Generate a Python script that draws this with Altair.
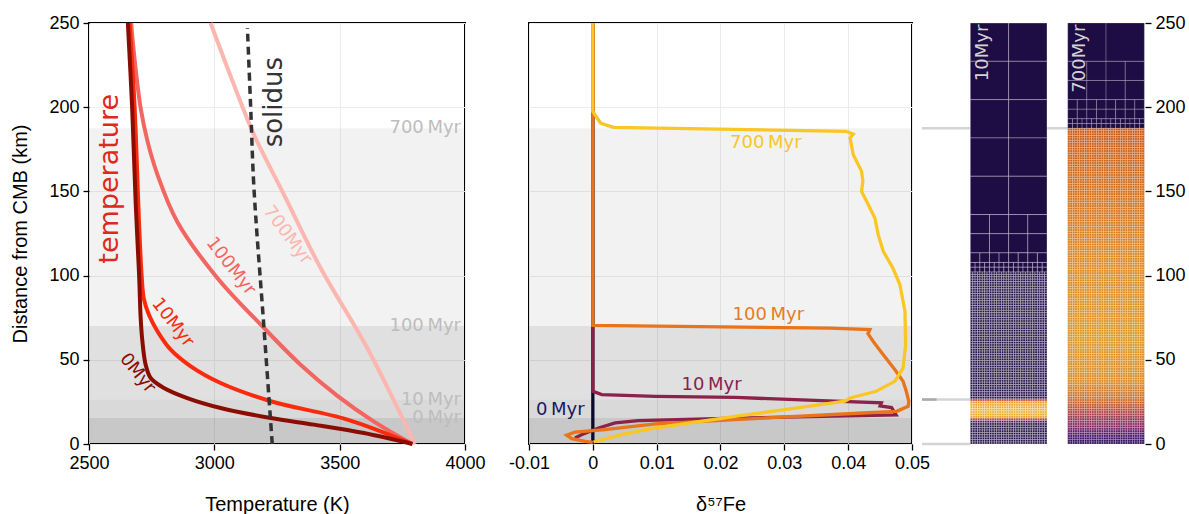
import altair as alt
import pandas as pd

alt.data_transformers.disable_max_rows()

FONT_AX = "Liberation Sans"
FONT_TX = "DejaVu Sans"
TS = "\u2009"

# ---------------- data: temperature profiles (K vs km above CMB) ----------------
T0_K = [3790, 3597, 3397, 3225, 3025, 2892, 2799, 2746, 2726, 2713, 2706, 2700, 2686, 2672, 2655]
T0_KM = [0, 6.5, 11.5, 15.4, 21.4, 27.3, 33.3, 39.2, 47.1, 61, 75, 100, 144, 200, 250]
T10_K = [3790, 3531, 3225, 3025, 2906, 2826, 2773, 2739, 2719, 2710, 2700, 2682, 2662]
T10_KM = [0, 14.5, 25.4, 36.2, 46.1, 56, 67, 76.8, 86, 100, 130, 200, 250]
T100_K = [3790, 3637, 3491, 3344, 3198, 3012, 2852, 2773, 2733, 2706, 2680, 2668]
T100_KM = [0, 13.3, 28.6, 47.1, 68.9, 98.6, 132, 160, 180, 199.5, 231, 250]
T700_K = [3800, 3610, 3424, 3278, 3158, 3078, 2985]
T700_KM = [0, 57, 104.5, 148, 183.7, 213.4, 250]
SOL_K = [3231, 3198, 3158, 3145, 3132]
SOL_KM = [0, 69, 152, 200, 247]

# ---------------- data: d57Fe profiles ----------------
FE0_D = [0, 0]
FE0_KM = [0, 250]
FE10_D = [0, 0, 0.0014, 0.0098, 0.0223, 0.0379, 0.0452, 0.0450, 0.0468, 0.0475, 0.0379,
          0.0223, 0.0071, 0.0035, 0.0009, -0.0017, -0.0028]
FE10_KM = [250, 31.3, 29.3, 28.3, 27.7, 25.4, 24.4, 22.6, 21.6, 17.3, 16.5,
           15.4, 13.9, 12.5, 9.5, 5.6, 3.6]
FE100_D = [0, 0, 0.0372, 0.0434, 0.0431, 0.0439, 0.0455, 0.0473, 0.0486, 0.0491, 0.0495,
           0.0494, 0.0476, 0.0423, 0.0223, 0.0098, 0.0019, -0.0028, -0.0041, -0.0033, -0.0012, 0]
FE100_KM = [250, 70.4, 68.8, 68.0, 65.5, 61, 53, 44.2, 37.2, 31.3, 25.4,
            22.4, 19.4, 18.4, 14.5, 11.9, 8.5, 7.1, 5.2, 3.2, 1.6, 1]
FE700_D = [0, 0, 0.0012, 0.0032, 0.0397, 0.0408, 0.0403, 0.0408, 0.0421, 0.0423, 0.0421, 0.0429,
           0.0442, 0.0447, 0.0455, 0.0470, 0.0481, 0.0489, 0.0490, 0.0486, 0.0473, 0.0444, 0.0403,
           0.0395, 0.0301, 0.0223, 0.0098, 0.0045, 0.0001]
FE700_KM = [250, 197.5, 190.6, 188, 185.7, 184, 181.7, 171.8, 162, 156, 150, 144,
            134, 124.3, 114.4, 104.5, 94.7, 78.8, 59, 45, 37.2, 31.3, 27.3,
            25.4, 20.4, 16.4, 9.5, 5.6, 1.2]

# ---------------- data: layer boundaries ----------------
BAND_LO = [0, 15.4, 26.4, 70.0]
BAND_HI = [15.4, 26.4, 70.0, 187.5]
BAND_OPAC = [0.215, 0.15, 0.12, 0.05]
BAND_NAMES = ["0" + TS + "Myr", "10" + TS + "Myr", "100" + TS + "Myr", "700" + TS + "Myr"]

# ---------------- data: mesh (columns, rows) per refinement level, top to bottom ----------------
MESH_TOP_KM = 250
MESH_WIDTH_KM = 45.5
MESH10_LEVELS = [(2, 5), (4, 2), (8, 1), (16, 2), (32, 72)]
MESH700_LEVELS = [(2, 1), (4, 2), (8, 2), (16, 2), (32, 132)]
STRIP10_X0 = 0.0
STRIP700_X0 = 1.27
DARK = "#1e0c45"
STRIP10_STOPS = [0, 12.2, 13.26, 14.68, 16.1, 20, 24.63, 26.05, 27.2, 250]
STRIP10_COLORS = [DARK, DARK, "#561270", "#c4402f", "#e89a1c", "#f0b22a", "#e89a1c", "#c4402f", DARK, DARK]
STRIP700_STOPS = [0, 3, 6, 10, 16, 20, 27, 37, 60, 100, 124, 150, 187, 187.4, 250]
STRIP700_COLORS = ["#240a50", "#360a5c", "#4e1066", "#76205f", "#9e2e4a", "#b84234", "#cc6a1e",
                   "#d8861a", "#de9018", "#dc8616", "#d87812", "#d2680e", "#c8520c", DARK, DARK]

W1, W2, W3, H = 376, 383, 225, 421


def line_df(xs, ys, xname):
    return pd.DataFrame({xname: xs, "d": ys, "i": list(range(len(xs)))})


ydom = alt.Scale(domain=[0, 250], nice=False, zero=False)
y_axis_left = alt.Axis(title="Distance from CMB (km)", values=[0, 50, 100, 150, 200, 250], grid=True)
x_axis_T = alt.Axis(title="Temperature (K)", values=[2500, 3000, 3500, 4000], format="d", grid=True)
Tdom = alt.Scale(domain=[2500, 4000], nice=False, zero=False)
Fedom = alt.Scale(domain=[-0.01, 0.05], nice=False, zero=False)
x_axis_Fe = alt.Axis(
    title="δ⁵⁷Fe", values=[-0.01, 0, 0.01, 0.02, 0.03, 0.04, 0.05], grid=True,
    labelExpr="datum.value == 0 ? '0' : (datum.value < 0 ? '-' + format(-datum.value, '.2f') : format(datum.value, '.2f'))",
)
y_axis_mid = alt.Axis(title=None, values=[0, 50, 100, 150, 200, 250], grid=True, labels=False, ticks=False)

bands = pd.DataFrame({"lo": BAND_LO, "hi": BAND_HI, "op": BAND_OPAC, "name": BAND_NAMES})


def band_layer(width, yaxis):
    return alt.Chart(bands).mark_rect(color="black").encode(
        x=alt.value(0), x2=alt.value(width),
        y=alt.Y("lo:Q", scale=ydom, axis=yaxis), y2="hi:Q",
        opacity=alt.Opacity("op:Q", scale=None),
    )


# ---------------- left panel ----------------
def tline(xs, ys, color, width=4, dash=None):
    kw = dict(color=color, strokeWidth=width, interpolate="catmull-rom")
    if dash:
        kw["strokeDash"] = dash
    return alt.Chart(line_df(xs, ys, "T")).mark_line(**kw).encode(
        x=alt.X("T:Q", scale=Tdom, axis=x_axis_T),
        y=alt.Y("d:Q", scale=ydom, axis=y_axis_left),
        order="i:Q",
    )


def ttext(T, d, text, color, size, angle=0, align="center", font=FONT_TX):
    df = pd.DataFrame({"T": [T], "d": [d], "t": [text]})
    return alt.Chart(df).mark_text(
        color=color, fontSize=size, angle=angle, align=align, baseline="middle", font=font
    ).encode(
        x=alt.X("T:Q", scale=Tdom, axis=x_axis_T),
        y=alt.Y("d:Q", scale=ydom, axis=y_axis_left),
        text="t:N",
    )


band_lab_left = alt.Chart(bands).mark_text(
    color="#bdbdbd", fontSize=18, align="right", baseline="middle", font=FONT_TX
).encode(
    x=alt.value(W1 - 4),
    y=alt.Y("hi:Q", scale=ydom, axis=y_axis_left),
    text="name:N",
)

left = alt.layer(
    band_layer(W1, y_axis_left),
    band_lab_left,
    tline(T700_K, T700_KM, "#fbb6b0"),
    tline(T100_K, T100_KM, "#f26560"),
    tline(T10_K, T10_KM, "#fb2a0c"),
    tline(T0_K, T0_KM, "#8b0d00"),
    tline(SOL_K, SOL_KM, "#333333", width=3.5, dash=[8, 5]),
    ttext(2583, 157.5, "temperature", "#dd2a1a", 27, angle=270),
    ttext(3240, 203, "solidus", "#333333", 26, angle=270),
    ttext(3291, 124, "700Myr", "#fbb6b0", 18, angle=53),
    ttext(3065, 105.5, "100Myr", "#f26560", 18, angle=52),
    ttext(2833, 72, "10Myr", "#fb2a0c", 18, angle=52),
    ttext(2693, 42, "0Myr", "#8b0d00", 18, angle=51),
).properties(width=W1, height=H)


# ---------------- middle panel ----------------
def fline(xs, ys, color):
    return alt.Chart(line_df(xs, ys, "fe")).mark_line(color=color, strokeWidth=3.3).encode(
        x=alt.X("fe:Q", scale=Fedom, axis=x_axis_Fe),
        y=alt.Y("d:Q", scale=ydom, axis=y_axis_mid),
        order="i:Q",
    )


def ftext(fe, d, text, color):
    df = pd.DataFrame({"fe": [fe], "d": [d], "t": [text]})
    return alt.Chart(df).mark_text(color=color, fontSize=18, font=FONT_TX, baseline="middle").encode(
        x=alt.X("fe:Q", scale=Fedom, axis=x_axis_Fe),
        y=alt.Y("d:Q", scale=ydom, axis=y_axis_mid),
        text="t:N",
    )


middle = alt.layer(
    band_layer(W2, y_axis_mid),
    fline(FE0_D, FE0_KM, "#0b0a2c"),
    fline(FE10_D, FE10_KM, "#8a2249"),
    fline(FE100_D, FE100_KM, "#e8751b"),
    fline(FE700_D, FE700_KM, "#f9c624"),
    ftext(0.0271, 178.7, "700" + TS + "Myr", "#f7c52b"),
    ftext(0.0275, 76.8, "100" + TS + "Myr", "#ea7a1f"),
    ftext(0.0186, 34.9, "10" + TS + "Myr", "#8a2249"),
    ftext(-0.0051, 20.4, "0" + TS + "Myr", "#1b1760"),
).properties(width=W2, height=H)


# ---------------- right panel: meshes ----------------
def mesh_cells(levels, x0):
    rows = []
    top = MESH_TOP_KM
    for ncol, nrow in levels:
        h = MESH_WIDTH_KM / ncol
        for _ in range(nrow):
            bot = max(top - h, 0)
            for c in range(ncol):
                rows.append({"mx": x0 + c / ncol, "mx2": x0 + (c + 1) / ncol,
                             "d": top, "d2": bot, "mid": (top + bot) / 2})
            top = bot
    return pd.DataFrame(rows)


mxdom = alt.Scale(domain=[-0.656, 2.278], nice=False, zero=False)
y_axis_right = alt.Axis(title=None, orient="right", values=[0, 50, 100, 150, 200, 250], grid=False)


def strip(levels, x0, stops, colors, line_op):
    return alt.Chart(mesh_cells(levels, x0)).mark_rect(
        stroke="white", strokeWidth=0.5, strokeOpacity=line_op
    ).encode(
        x=alt.X("mx:Q", scale=mxdom, axis=None), x2="mx2:Q",
        y=alt.Y("d:Q", scale=ydom, axis=y_axis_right), y2="d2:Q",
        color=alt.Color("mid:Q", scale=alt.Scale(domain=stops, range=colors, interpolate="rgb"), legend=None),
    )


conn = pd.DataFrame({
    "mx": [-0.63, 1.0, -0.63, -0.63, -0.63],
    "mx2": [0.0, 1.27, 0.0, -0.44, 0.0],
    "d": [187.5, 187.5, 26.4, 26.4, 0.0],
    "c": ["#d4d4d4", "#d4d4d4", "#d4d4d4", "#ababab", "#d4d4d4"],
})
connectors = alt.Chart(conn).mark_rule(strokeWidth=2.5).encode(
    x=alt.X("mx:Q", scale=mxdom, axis=None), x2="mx2:Q",
    y=alt.Y("d:Q", scale=ydom, axis=y_axis_right),
    color=alt.Color("c:N", scale=None),
)

mlabels = pd.DataFrame({"mx": [STRIP10_X0 + 0.16, STRIP700_X0 + 0.155], "d": [249, 249],
                        "t": ["10Myr", "700Myr"]})
mesh_text = alt.Chart(mlabels).mark_text(
    color="#d2d2d2", fontSize=18, font=FONT_TX, angle=270, align="right", baseline="middle"
).encode(
    x=alt.X("mx:Q", scale=mxdom, axis=None),
    y=alt.Y("d:Q", scale=ydom, axis=y_axis_right),
    text="t:N",
)

right = alt.layer(
    connectors,
    strip(MESH10_LEVELS, STRIP10_X0, STRIP10_STOPS, STRIP10_COLORS, 0.6),
    strip(MESH700_LEVELS, STRIP700_X0, STRIP700_STOPS, STRIP700_COLORS, 0.4),
    mesh_text,
).resolve_scale(color="independent").properties(
    width=W3, height=H, view=alt.ViewBackground(stroke="transparent")
)

chart = alt.hconcat(
    left,
    alt.hconcat(middle, right, spacing=8, bounds="flush"),
    spacing=64, bounds="flush",
).properties(
    padding={"left": 9, "top": 13, "right": 2, "bottom": 2}
).configure_view(
    stroke="black", strokeWidth=2
).configure_axis(
    labelFont=FONT_AX, titleFont=FONT_AX, labelFontSize=18, titleFontSize=20,
    labelColor="black", titleColor="black", titleFontWeight="normal",
    tickColor="black", tickSize=6, tickWidth=1.3, domain=False, labelFlush=False,
    gridColor="#ececec", gridWidth=1, labelPadding=4,
).configure_axisX(titlePadding=22).configure_axisY(titlePadding=18)

chart.save("out.html", embed_options={"renderer": "svg", "actions": False})
